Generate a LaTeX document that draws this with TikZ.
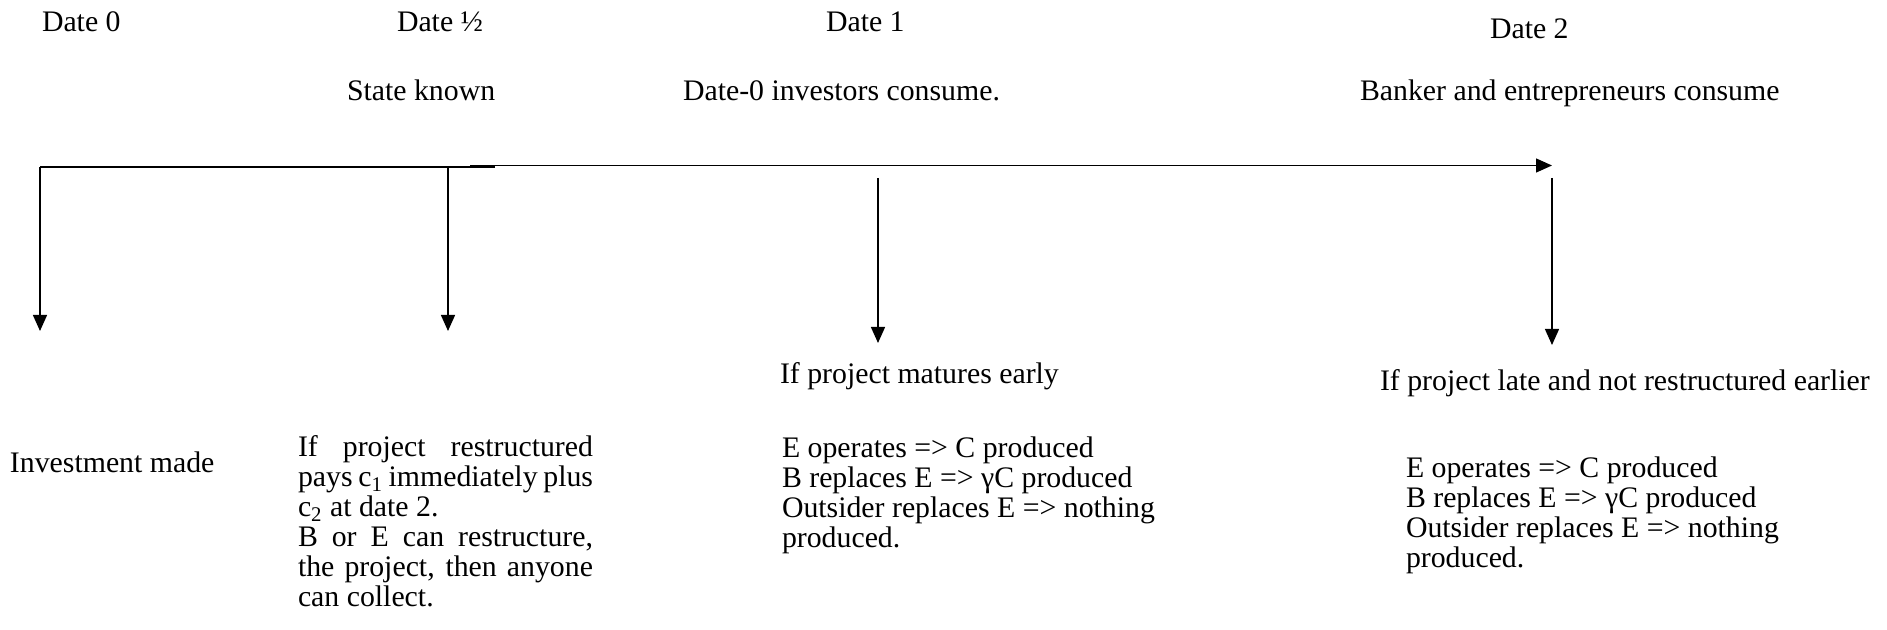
\documentclass[tikz,border=0pt]{standalone}
\usepackage{fontspec}
\setmainfont{Liberation Serif}
\usetikzlibrary{arrows.meta}
\begin{document}
\begin{tikzpicture}[x=0.5pt,y=-0.5pt,
  lbl/.style={anchor=base west,inner sep=0pt,outer sep=0pt,font=\fontsize{14.9}{15}\selectfont},
  para/.style={lbl,align=left},
  conn/.style={line width=0.7pt,-{Triangle[width=7pt,length=8pt]}},
  axis/.style={line width=0.7pt}]
\useasboundingbox (0,0) rectangle (1887,630);
% top labels
\node[lbl] (d0) at (42,32) {Date 0};
\node[lbl] (dh) at (397,32) {Date ½};
\node[lbl] (d1) at (826,32) {Date 1};
\node[lbl] (d2) at (1490,39) {Date 2};
\node[lbl] (sk) at (347,101) {State known};
\node[lbl] (ic) at (683,101) {Date-0 investors consume.};
\node[lbl] (bc) at (1360,101) {Banker and entrepreneurs consume};
% timeline
\coordinate (t0) at (40,167);
\coordinate (tm) at (495,167);
\coordinate (tr) at (470,165.5);
\coordinate (tend) at (1552,165.5);
\draw[axis] (t0) -- (tm);
\draw[conn] (tr) -- (tend);
\coordinate (a1s) at (448,167);
\coordinate (a2s) at (878,178);
\coordinate (a3s) at (1552,178);
\coordinate (a0e) at (40,331);
\coordinate (a1e) at (448,331);
\coordinate (a2e) at (878,343);
\coordinate (a3e) at (1552,345);
\draw[conn] (t0) -- (a0e);
\draw[conn] (a1s) -- (a1e);
\draw[conn] (a2s) -- (a2e);
\draw[conn] (a3s) -- (a3e);
% bottom labels
\node[lbl] (me) at (780,384) {If project matures early};
\node[lbl] (pl) at (1380,391) {If project late and not restructured earlier};
\node[lbl] (im) at (10,473) {Investment made};
\node[para] (rs) at (298,607) {%
  \makebox[147.5pt][s]{If project restructured}\\
  \makebox[147.5pt][s]{pays c\textsubscript{1} immediately plus}\\
  c\textsubscript{2} at date 2.\\
  \makebox[147.5pt][s]{B or E can restructure,}\\
  \makebox[147.5pt][s]{the project, then anyone}\\
  can collect.};
\node[para] (mo) at (782,548) {E operates => C produced\\
  B replaces E => γC produced\\
  Outsider replaces E => nothing\\
  produced.};
\node[para] (lo) at (1406,568) {E operates => C produced\\
  B replaces E => γC produced\\
  Outsider replaces E => nothing\\
  produced.};
\end{tikzpicture}
\end{document}
